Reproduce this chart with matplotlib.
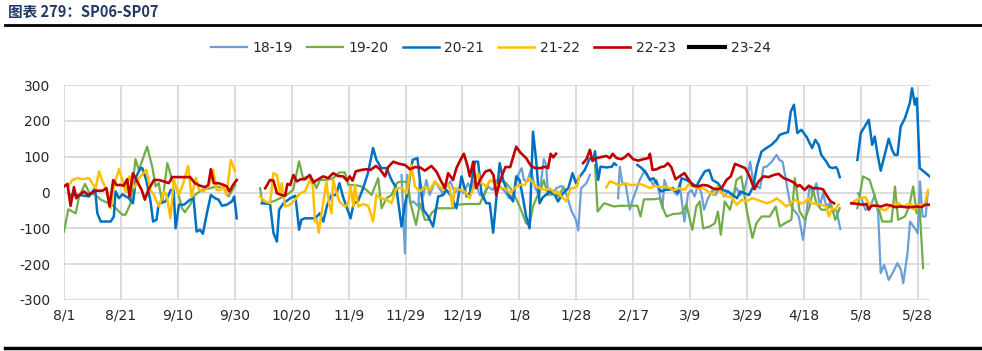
import numpy as np
import matplotlib
matplotlib.use("Agg")
import matplotlib.pyplot as plt
from matplotlib.lines import Line2D

plt.rcParams['font.family'] = ['DejaVu Sans']
plt.rcParams['axes.unicode_minus'] = False

nan = np.nan

# x positions are days counted from 8/1; nan marks a break in the series
tick_days = [0, 20, 40, 60, 80, 100, 120, 140, 160, 180, 200, 220, 240, 260, 280, 300]
tick_labels = ['8/1', '8/21', '9/10', '9/30', '10/20', '11/9', '11/29', '12/19',
               '1/8', '1/28', '2/17', '3/9', '3/29', '4/18', '5/8', '5/28']

# 18-19
d_1819 = [118.6, 119.4, 119.8, 120.6, 121.6, 122.8, 124.5, 125, 126.2, 127.3, 128.5, 130.3, 131.5, 133,
          134.4, 135.8, 137.3, 138.5, 140.3, 142, 143.2, 144.4, 146.1, 147.5, 149, 150.6, 152, 153.1,
          154.9, 156.4, 157.8, 159.6, 160.8, 161.6, 162.8, 164.1, 165.4, 167, 168.6, 169.4, 170.1,
          171.3, 173, 174.5, 175.4, 176.6, 178.4, 179.9, 180.7, 181.7, 182.4, 183.6, 184.8,
          190,
          194.7, 195.3, 196.2, 197.4, 198.8, 200, 201.1, 202.3, 204.1, 205.3, 207.1, 208.2, 209.7,
          210.3, 211, 212.2, 214, 215.4, 216.3, 218, 219.3, 220.5, 221.6, 222.8, 224, 224.9, 226.3,
          227.9, 229, 230.5, 231.9, 233.4, 234.9, 236.4, 237.6, 239, 240.2, 241.1, 242.1, 243.5,
          244.6, 245.8, 246.9, 248.7, 250.4, 251.4, 252.5, 253.9, 255.1, 256.3, 257.4, 258.2, 259.7,
          260.9, 262, 263.2, 264.4, 265.6, 266.7, 267.9, 269, 270.2, 271.4, 272.8,
          275,
          279, 280.2, 281.6, 283.1, 284.9, 286.1, 287, 288.2, 289.8, 291.4, 292.9, 294.1, 294.9,
          296.4, 297.3, 299, 300, 300.8, 301.7, 302.8, 303.5]
v_1819 = [49, -95, -170, 49, -30, -25, -39, 35, -11, 35, -7, 31, 17, -2,
          17, 31, -2, 12, -2, 26, 3, 35, -7, -11, 17, 7, 26, 17,
          3, -16, -7, 49, 68, 35, 31, 63, 17, -11, 93, 79, -2,
          -7, 12, 17, 17, -7, -53, -76, -106, 12, 17, 26, 49,
          nan,
          -16, 72, 26, 21, -48, -16, 7, 35, 63, 45, 21, 35, -20,
          -44, 35, 7, 7, -7, 26, -81, -2, 7, -11, 21, -2, -48, -16,
          7, -7, 17, -11, 3, -11, 12, -7, 3, 45, 86, 35, 17,
          12, 71, 72, 86, 105, 91, 86, 26, -30, -48, -58, -67, -132,
          -58, 17, -2, 26, -39, -2, -39, -30, -53, -48, -102,
          nan,
          -2, -16, -48, -44, -7, -58, -225, -202, -244, -221, -197, -216, -253,
          -170, -81, -100, -114, 31, -67, -67, -2]

# 19-20
d_1920 = [0, 1.5, 4.1, 5.3, 7.4, 8.8, 11.1, 12.9, 17, 20.5, 21.6, 23.4, 25.1, 26.3, 29.2, 31, 32.2,
          33.3, 34.5, 36.3, 38, 39.8, 41.5, 42.5, 44.3, 46, 48.4, 51.3, 53.6, 56, 57.8, 60.2,
          64,
          68.9, 69.8, 73.5, 75.9, 78.2, 80.5, 81.5, 82.6, 84, 85.8, 87.6, 88.7, 89.9, 92.3, 94.6,
          96.7, 98.7, 99.9, 102.2, 104.5, 106.3, 108.1, 110.4, 111.6, 113.3, 115.1, 116.9, 118,
          120.4, 122.1, 123.7, 125.1, 126.8, 128, 129.1, 130.9, 133.2, 136.7, 138.5, 141.5, 146.1,
          149.5, 153, 155.4, 157.7, 160.1, 162.4, 163.6, 164.8, 166.5, 167.5, 168.6, 170.1, 171.9,
          173.6, 175.4, 176.6,
          181,
          186.6, 187.5, 189.8, 193.3, 195.6, 199.1, 201.5, 202.6, 203.8, 207.3, 209.3, 210.5,
          211.7, 214, 217, 218.7, 220.8, 222.2, 223.4, 224.6, 226.9, 228.7, 229.8, 230.8, 232.2,
          234, 235.1, 236.3, 238, 240, 241.9, 243.3, 245.1, 248, 250.1, 251.5, 253.3, 255.6,
          256.8, 258.5, 260.3, 262, 263.2, 264.4, 266.1, 267.9, 269.6, 271, 272.6,
          275,
          278.8, 280.8, 283.1, 284.9, 286.1, 287.5, 289, 290.8, 292, 293.1, 295.5, 297, 298.4,
          299.6, 300.7, 301.9]
v_1920 = [-109, -47, -58, -11, 24, 0, -7, -20, -35, -62, -62, -30, 93, 63, 128, 72, 17,
          26, -30, 82, 35, 7, -45, -55, -34, -7, 7, 12, 17, 12, -11, 21,
          nan,
          12, -30, -25, -16, -7, 7, 45, 87, 40, 45, 35, 12, 35, 35, 40,
          56, 56, 21, 21, 17, 7, -7, 40, -44, -16, -7, 26, 30,
          30, -40, -90, -30, -76, -76, -58, -44, -44, -44, -34, -32, -32,
          31, 35, 26, 3, -39, -86, -90, -39, -7, 7, 35, -7, 3,
          -11, 12, 7,
          nan,
          77, -53, -30, -39, -37, -37, -37, -67, -19, -19, -16, -44,
          -67, -60, -58, -34, -104, -39, -25, -100, -95, -86, -53, -118, -25,
          -48, -16, 35, 45, -53, -127, -86, -67, -67, -39, -95, -86, -76,
          40, -53, -76, -39, 7, -30, -48, -48, -34, -76, -44,
          nan,
          -44, 45, 35, -11, -39, -81, -81, -81, 17, -76, -67, -39, 17,
          -58, -48, -211]

# 20-21
d_2021 = [1.8, 5.3, 8.8, 10.9, 11.7, 12.9, 16.4, 17.5, 18.1, 19.3, 20.5, 22.8, 24.2, 25.4, 26.9,
          27.5, 28.9, 30.4, 31.3, 32.5, 33.3, 35.7, 37.5, 38.5, 39.2, 40.4, 42.2, 44.3, 45.5, 46.6,
          47.8, 48.8, 50.2, 51.6, 53.1, 54.3, 55.5, 57.2, 59, 59.8, 60.7,
          65,
          69.5, 72.4, 73.6, 74.8, 75.6, 77.1, 79.5, 81.3, 82.6, 83.4, 84.6, 88.2, 89.9, 91.1, 92.5,
          94, 95.6, 96.8, 98, 100.7, 101.8, 103.3, 105.1, 106.8, 108.6, 109.8, 111.5, 113.3, 115.1,
          116.8, 118.6, 119.8, 121, 122.5, 124.2, 125.3, 126.3, 128, 129.7, 131.5, 133.2, 134.4,
          136.1, 137.9, 139.7, 141.5, 142.6, 144.4, 145.5, 146.7, 148.4, 149.6, 150.8, 152.2, 153.1,
          154.3, 156, 157.8, 158.9, 160.1, 161.3, 162.4, 163.6, 164.8, 165.9, 167.1, 168.2, 170.7,
          172.5, 173.6, 175.4, 177.2, 178.7, 179.9, 181.3, 183, 184.8, 186, 186.6, 187.7, 188.5,
          190.7, 192.5, 193.3, 194,
          198,
          201.5, 203, 204.5, 205.9, 207.1, 208.3, 209.7, 211.2, 214, 215.8, 217, 218.7, 220.5,
          222.2, 223.4, 225.2, 226.7, 227.9, 229.8, 231.5, 233.3, 235.1, 236.5, 237.7, 239.2,
          240.7, 242.2, 243.5, 245.1, 246.8, 248.6, 250.4, 251.5, 253.3, 254.4, 255.4, 256.5,
          257.7, 259.1, 260.9, 262.9, 264, 265.2, 266.1, 267.9, 269, 270.2, 271.2, 271.8, 272.6,
          275,
          278.8, 280, 282.8, 284, 284.9, 285.9, 287, 288.4, 289.8, 291, 291.9, 292.9, 294, 295.5,
          297.2, 298, 299, 299.7, 300.7, 302.5, 304.2]
v_2021 = [-7, -7, -11, 12, -58, -81, -81, -67, 3, -16, -5, -16, -30, 45, 68,
          68, 35, -25, -81, -76, -30, -25, 7, 7, -100, -34, -34, -20, -16, -109,
          -104, -115, -58, -7, -16, -20, -37, -34, -25, -11, -72,
          nan,
          -30, -32, -113, -137, -48, -30, -16, -9, -104, -76, -72, -72, -58, -81, -34,
          -7, -7, 26, -11, -72, -30, -25, 12, 54, 124, 91, 68, 68, 35,
          12, -95, -34, 17, 91, 96, 17, -48, -67, -95, -11, -7, 7,
          -11, -44, 45, -11, -2, 86, 86, -2, -30, -30, -112, 7, 82,
          35, -2, -25, 45, 35, -16, -67, -100, 170, 91, -30, -14, 3,
          -7, -25, -2, 12, 54, 26, 45, 63, 96, 91, 115, 35, 72,
          70, 72, 82, 77,
          nan,
          77, 68, 54, 35, 40, 26, 3, 7, 12, -2, 40, 35, 26,
          17, 35, 59, 63, 35, 26, 7, 3, -7, -16, 3, -2,
          -7, 17, 72, 114, 124, 133, 147, 161, 166, 168, 226, 245,
          166, 175, 156, 124, 147, 133, 105, 86, 71, 68, 71, 65, 43,
          nan,
          91, 166, 203, 133, 156, 105, 61, 105, 150, 119, 105, 105, 184, 207,
          249, 291, 245, 263, 68, 56, 45]

# 21-22
d_2122 = [1.5, 2.9, 4.7, 6.4, 8.8, 9.9, 11.1, 12.3, 13.5, 15, 16.4, 17.5, 19.3, 20.5, 21.6, 23,
          24.6, 26.3, 28.9, 30.4, 31.6, 33.3, 35.1, 36, 37.4, 38.6, 40.4, 41.9, 43.6, 44.8, 46.3,
          47.5, 49.1, 50.7, 52.4, 53.6, 54.8, 55.9, 57.1, 58.6, 60.1,
          64,
          68.9, 70.7, 72.4, 73.6, 74.8, 75.9, 76.5, 77.7, 79.5, 81.2, 83, 84.7, 86.4, 87.4, 88.2,
          88.9, 89.5, 90.7, 92.2, 93.1, 94, 94.6, 95.5, 96.7, 98.7, 99.9, 100.7, 101.7, 102.2,
          103.4, 105.1, 106.9, 108.6, 109.8, 111.5, 113.3, 115.1, 116.8, 118.6, 120.4, 122.1,
          123.3, 125.1, 126.8, 128.5, 130.3, 132, 133.4, 134.4, 135.5, 136.5, 137.3, 139.1, 140.8,
          142.6, 144.4, 145.5, 146.7, 148.4, 149.9, 151.4, 153.1, 154.9, 156.7, 157.8, 159.6,
          161.9, 163.6, 165.4, 167.1, 169, 170.7, 172.5, 173.6, 174.8, 176.6, 178, 178.9, 180.3,
          181,
          185,
          190.6, 191.8, 193.6, 195.3, 197.1, 198.9, 200.6, 202.3, 204.1, 205.9, 207.6, 209.4,
          211.2, 212.8, 214.5, 216.3, 218, 219.6, 221, 222.8, 224.6, 226.3, 228.1, 229.6, 231.1,
          232.9, 234.6, 236.4, 238.2, 239.9, 241.7, 243.5, 245.3, 247, 248.8, 250.5, 252.3, 253.8,
          255.6, 257, 258.8, 260.3, 261.5, 262.7, 264.4, 266.1, 267.9, 268.8, 269.9, 271, 272.2,
          274,
          276.9, 278.5, 280.2, 281.6, 282.8, 284.3, 285.8, 287.2, 288.6, 290.1, 291.9, 293.3,
          294.8, 296.6, 297.8, 298.7, 299.6, 301.1, 302.5, 303.6]
v_2122 = [17, 35, 40, 37, 40, 26, 12, 59, 31, 7, -44, 17, 65, 35, 3, 45,
          12, 40, 63, 7, -7, -39, 3, -7, -72, 35, -7, 26, 74, -11, 40,
          7, 3, 17, 63, 7, 7, 17, -7, 91, 59,
          nan,
          -11, -25, -30, 54, 49, -7, 26, -39, -34, -20, -2, 3, 35, 21, -81,
          -76, -112, -48, 31, -30, -58, 35, 7, -25, -39, -30, 17, -39, 21,
          -39, -32, -37, -81, -7, -16, -20, -30, 12, 12, -2, 77,
          17, 3, 17, 7, 31, 17, 7, 31, 12, -39, 12, 7, 3,
          -16, 26, 54, 26, 17, 35, 26, 12, 12, -2, 7, 21,
          21, 40, 21, 12, 7, 12, -2, 3, -11, -25, 12, 12, 17,
          45,
          nan,
          15, 31, 26, 19, 26, 21, 21, 24, 19, 12, 19, 15,
          17, 12, 7, 12, 7, 24, 17, 12, 12, 3, -7, 17, -2,
          -11, -13, -34, -20, -25, -16, -20, -25, -30, -25, -16, -28, -39,
          -28, -20, -30, -28, -16, -30, -32, -34, -39, -67, -44, -48, -34,
          nan,
          -30, -20, -16, -13, -30, -34, -39, -46, -50, -39, -34, -30,
          -41, -32, -32, -48, -34, -37, -34, 7]

# 22-23
d_2223 = [0, 1.2, 2.3, 3.5, 4.3, 5.5, 7, 8.5, 9.9, 11.3, 13.5, 14.9, 16, 17.3, 18.4, 19.9, 21,
          22.2, 23, 24.2, 25.7, 27.3, 28.4, 29.6, 31.6, 33.3, 35.1, 36.8, 38, 39.8, 42.2, 44.3, 46,
          47.8, 49.6, 50.7, 51.6, 52.6, 54.3, 56.1, 57.2, 58.1, 59.4, 60.7,
          65,
          70.7, 72.4, 73.6, 74.8, 76.5, 77.7, 78.5, 79.5, 80.6, 81.8, 83.2, 84.7, 86.4, 87.6, 89.3,
          91.1, 92.8, 94.6, 96.3, 98.1, 99.5, 100.4, 101.4, 102.5, 104.5, 106.3, 107.7, 109.6, 111,
          112.8, 113.9, 115.7, 117.8, 119.8, 121.6, 123.3, 125.1, 126.8, 129.1, 130.9, 132.3, 133.8,
          135, 136.7, 137.9, 139.3, 140.5, 141.7, 142.6, 143.8, 144.8, 146.2, 148, 149.7, 150.9,
          151.9, 153.3, 155.1, 156.8, 158.9, 160.3, 162.4, 164.1, 165.6, 167.4, 169.1, 170.1, 171,
          171.9, 172.9,
          178,
          182.4, 183.6, 184.8, 185.7, 187.1, 188.9, 190.6, 191.8, 192.8, 194.2, 195.9, 197.1, 198.3,
          200, 201.8, 203.5, 205.3, 205.9, 206.8, 208.3, 209.7, 211, 212.2, 213.4, 214.9, 216.3,
          218, 219.6, 221, 222.8, 224.6, 226.3, 227.9, 229.3, 231.1, 232.8, 234.3, 235.8, 237.6,
          239.4, 240.9, 242.6, 244.1, 245.8, 247.6, 249.4, 251.1, 252.9, 254.7, 256.4, 257.8,
          258.5, 260.3, 261.7, 263.2, 264.9, 266.7, 267.9, 269.4, 270.6,
          273,
          276.7, 279, 280.8, 282, 282.8, 283.7, 285.5, 287.2, 289, 290.8, 292.2, 294, 296, 297.8,
          299.6, 301.3, 302.7, 304.2]
v_2223 = [17, 24, -37, 15, -16, -7, 3, -7, 0, 5, 5, 12, -39, 35, 21, 21, 19,
          37, -11, 54, 31, 7, -20, 7, 35, 35, 31, 26, 43, 43, 43, 43, 26,
          19, 15, 21, 65, 26, 26, 21, 17, 3, 21, 35,
          nan,
          12, 35, 33, -2, -7, -9, 24, 21, 49, 31, 37, 37, 49, 28, 37,
          45, 40, 54, 46, 45, 33, 45, 33, 59, 63, 65, 63, 74, 65,
          45, 71, 86, 80, 77, 65, 71, 70, 61, 74, 58, 35, 12,
          54, 35, 68, 91, 108, 77, 45, 86, 12, 35, 58, 63, 49,
          -7, 35, 71, 71, 128, 112, 96, 74, 68, 68, 72, 68, 108,
          98, 108,
          nan,
          82, 93, 119, 88, 96, 99, 102, 96, 108, 96, 93, 99, 108,
          93, 89, 93, 96, 108, 63, 65, 71, 73, 82, 71, 37, 45,
          54, 35, 19, 17, 21, 19, 12, 9, 12, 35, 45, 80, 74,
          68, 45, 9, 31, 45, 43, 49, 52, 40, 35, 28, 17,
          21, 7, 19, 12, 12, 9, -7, -25, -30,
          nan,
          -30, -32, -34, -32, -48, -37, -37, -39, -34, -37, -41, -39, -41, -41,
          -39, -41, -34, -34]

# 23-24 (no visible data)
d_2324 = []
v_2324 = []

series = [
    ('18-19', d_1819, v_1819, '#6A9FD8', 1.6),
    ('19-20', d_1920, v_1920, '#70AD47', 1.6),
    ('20-21', d_2021, v_2021, '#0070C0', 1.8),
    ('21-22', d_2122, v_2122, '#FFC000', 1.8),
    ('22-23', d_2223, v_2223, '#C00000', 1.9),
    ('23-24', d_2324, v_2324, '#000000', 3.0),
]

fig = plt.figure(figsize=(9.82, 3.51), dpi=100)
ax = fig.add_axes([0.0652, 0.1453, 0.8818, 0.6125])

for name, d, v, color, lw in series:
    ax.plot(d, np.array(v, dtype=float), color=color, lw=lw, label=name)

ax.set_xlim(0, 304.3)
ax.set_ylim(-300, 300)
ax.set_yticks(range(-300, 301, 100))
ax.set_xticks(tick_days)
ax.set_xticklabels(tick_labels)
ax.grid(True, color='#D9D9D9', lw=1.3)
ax.set_axisbelow(True)
for s in ax.spines.values():
    s.set_visible(False)
ax.tick_params(length=0, labelsize=10, colors='#262626', pad=6)
ax.tick_params(axis='y', pad=10)

fig.legend(loc='center', bbox_to_anchor=(0.5, 0.863), ncol=6, frameon=False,
           fontsize=10, handlelength=2.6, columnspacing=1.0, handletextpad=0.4,
           labelcolor='#262626')

fig.text(0.008, 0.965, '图表 279：SP06-SP07', fontsize=10.5, fontweight='bold',
         color='#1F3864', va='center', ha='left',
         family=['Noto Sans CJK SC', 'DejaVu Sans'])
fig.add_artist(Line2D([0.005, 1.0], [0.929, 0.929], transform=fig.transFigure,
                      color='black', lw=2))
fig.add_artist(Line2D([0.005, 1.0], [0.008, 0.008], transform=fig.transFigure,
                      color='black', lw=2.5))

fig.savefig('out.png', dpi=100)
